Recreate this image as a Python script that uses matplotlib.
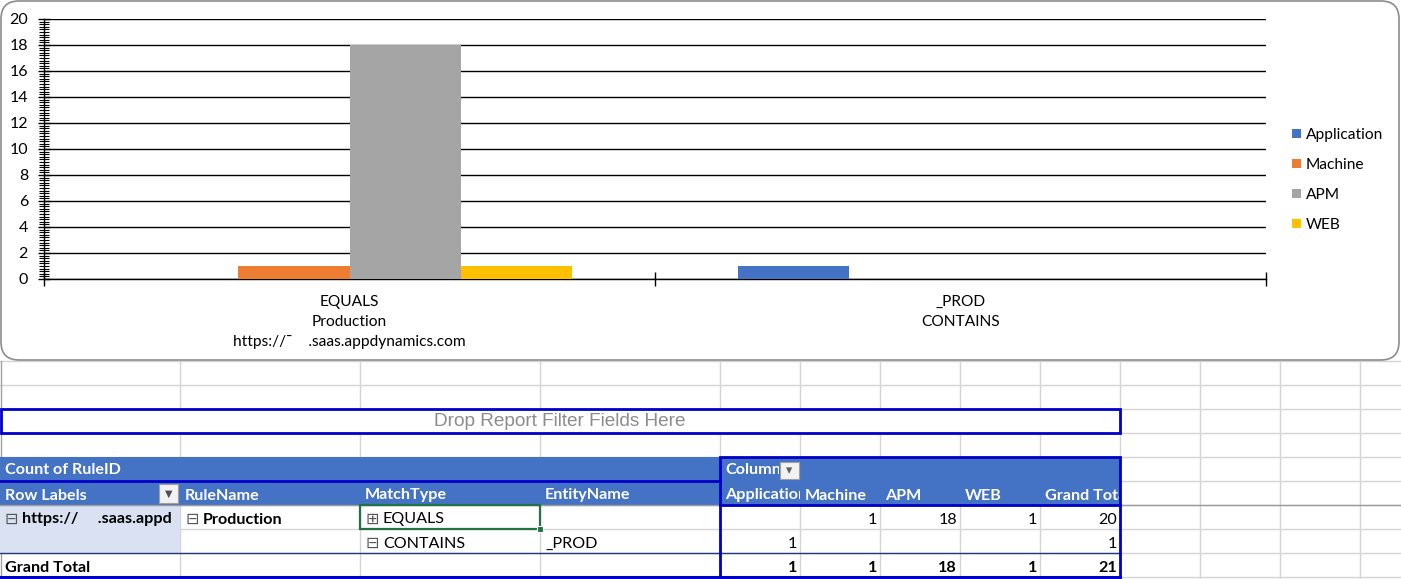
import matplotlib
matplotlib.use("Agg")
import matplotlib.pyplot as plt
from matplotlib.patches import Rectangle, FancyBboxPatch
from matplotlib.ticker import MultipleLocator, FixedLocator
from matplotlib.transforms import Bbox, TransformedBbox

plt.rcParams['font.family'] = ['Lato', 'DejaVu Sans']

# ---------------- data ----------------
categories = ["EQUALS\nProduction\nhttps://ˉ    .saas.appdynamics.com", "_PROD\nCONTAINS"]
series_names = ["Application", "Machine", "APM", "WEB"]
application = [0, 1]
machine = [1, 0]
apm = [18, 0]
web = [1, 0]
series_colors = ["#4472C4", "#ED7D31", "#A5A5A5", "#FFC000"]
y_ticks = [0, 2, 4, 6, 8, 10, 12, 14, 16, 18, 20]

# pivot table (text as visible in the cells)
pivot_row_labels = ["https://     .saas.appd", "Production"]
pivot_match = ["EQUALS", "CONTAINS"]
pivot_entity = ["", "_PROD"]
pivot_columns = ["Application", "Machine", "APM", "WEB", "Grand Total"]
pivot_row1 = [None, 1, 18, 1, 20]
pivot_row2 = [1, None, None, None, 1]
pivot_total = [1, 1, 18, 1, 21]

W, H = 1401, 579
fig = plt.figure(figsize=(W / 100, H / 100), dpi=100)

# ---------------- spreadsheet background ----------------
bg = fig.add_axes([0, 0, 1, 1])
bg.set_xlim(0, W)
bg.set_ylim(H, 0)
bg.axis('off')

grid_c = "#D4D4D4"
col_edges = [0, 180, 360, 540, 720, 800, 880, 960, 1040, 1120, 1200, 1280, 1360]
row_edges = [361, 385, 409, 433, 457, 481, 505, 529, 553, 577]
for x in col_edges[1:]:
    bg.plot([x, x], [361, H], color=grid_c, lw=1, zorder=1)
for y in row_edges:
    bg.plot([0, W], [y, y], color=grid_c, lw=1, zorder=1)
bg.plot([0.5, 0.5], [361, H], color="#A0A0A0", lw=1, zorder=1)

header_blue = "#4472C4"
border_blue = "#0000C8"
white_txt = "white"
fs = 11.6

# header fills
bg.add_patch(Rectangle((0, 457), 1120, 48, facecolor=header_blue, edgecolor='none', zorder=2))
# light row label fill
bg.add_patch(Rectangle((0, 505), 180, 48, facecolor="#D9E1F2", edgecolor='none', zorder=2))

def clipped_text(x, y, s, x0, x1, **kw):
    t = bg.text(x, y, s, va='center', fontsize=fs, zorder=6, **kw)
    t.set_clip_box(TransformedBbox(Bbox([[x0, y - 14], [x1, y + 14]]), bg.transData))
    t.set_clip_on(True)
    return t

# filter box
bg.add_patch(Rectangle((0.5, 409), 1119.5, 24, facecolor='white', edgecolor=border_blue, lw=2, zorder=4))
bg.text(560, 421.5, "Drop Report Filter Fields Here", ha='center', va='center', fontsize=13.7,
        color="#8C8C8C", family=['Liberation Sans', 'DejaVu Sans'], zorder=5)

# header texts
r0, r1 = 470.5, 495.5
bg.text(5, r0, "Count of RuleID", va='center', fontsize=fs, color=white_txt, fontweight='bold', zorder=6)
clipped_text(725, r0, "Column", 720, 779, color=white_txt, fontweight='bold')
bg.add_patch(Rectangle((780, 462), 19, 17, facecolor="#F2F2F2", edgecolor="#A0A0A0", lw=0.8, zorder=7))
bg.text(789.5, 470.5, "▾", ha='center', va='center', fontsize=9, color="#606060",
        family=['DejaVu Sans'], zorder=8)

bg.text(5, r1, "Row Labels", va='center', fontsize=fs, color=white_txt, fontweight='bold', zorder=6)
bg.add_patch(Rectangle((159, 484), 19, 19, facecolor="#F2F2F2", edgecolor="#A0A0A0", lw=0.8, zorder=7))
bg.text(168.5, 493.5, "▼", ha='center', va='center', fontsize=7, color="#505050",
        family=['DejaVu Sans'], zorder=8)
bg.text(185, r1, "RuleName", va='center', fontsize=fs, color=white_txt, fontweight='bold', zorder=6)
bg.text(365, r1, "MatchType", va='center', fontsize=fs, color=white_txt, fontweight='bold', zorder=6)
bg.text(545, r1, "EntityName", va='center', fontsize=fs, color=white_txt, fontweight='bold', zorder=6)
col_x = [720, 800, 880, 960, 1040]
for i, name in enumerate(pivot_columns):
    clipped_text(col_x[i] + 5, r1, name, col_x[i], col_x[i] + 80 - (1 if i == 4 else 0),
                 color=white_txt, fontweight='bold')

# body rows
row_y = [519.5, 543.5, 567.5]
bg.text(5, row_y[0], "⊟", va='center', fontsize=fs, color="#555555", zorder=6)
clipped_text(22, row_y[0], pivot_row_labels[0], 0, 180, color='black', fontweight='bold')
bg.text(186, row_y[0], "⊟", va='center', fontsize=fs, color="#555555", zorder=6)
bg.text(203, row_y[0], pivot_row_labels[1], va='center', fontsize=fs, color='black', fontweight='bold', zorder=6)
bg.text(366, row_y[0], "⊞", va='center', fontsize=fs, color="#555555", zorder=6)
bg.text(383, row_y[0], pivot_match[0], va='center', fontsize=fs, color='black', zorder=6)
bg.text(366, row_y[1], "⊟", va='center', fontsize=fs, color="#555555", zorder=6)
bg.text(383, row_y[1], pivot_match[1], va='center', fontsize=fs, color='black', zorder=6)
bg.text(545, row_y[1], pivot_entity[1], va='center', fontsize=fs, color='black', zorder=6)
bg.text(5, row_y[2], "Grand Total", va='center', fontsize=fs, color='black', fontweight='bold', zorder=6)

for rvals, ry, bold in [(pivot_row1, row_y[0], False), (pivot_row2, row_y[1], False),
                        (pivot_total, row_y[2], True)]:
    for i, v in enumerate(rvals):
        if v is None:
            continue
        bg.text(col_x[i] + 77, ry, str(v), ha='right', va='center', fontsize=fs, color='black',
                fontweight='bold' if bold else 'normal', zorder=6)

# selected cell (green)
bg.add_patch(Rectangle((360, 505), 180, 24, facecolor='none', edgecolor="#217346", lw=1.6, zorder=8))
bg.add_patch(Rectangle((537, 526), 6, 6, facecolor="#217346", edgecolor='white', lw=0.8, zorder=9))

# pivot borders
bg.plot([0, W], [505, 505], color="#9B9B9B", lw=1, zorder=3)
bg.plot([0, 720], [481, 481], color=border_blue, lw=2, zorder=5)
bg.plot([0, 1120], [553, 553], color="#1F3A78", lw=1, zorder=5)
bg.plot([0, 1120], [577, 577], color=border_blue, lw=2.2, zorder=5)
bg.add_patch(Rectangle((720, 457), 400, 120, facecolor='none', edgecolor=border_blue, lw=2, zorder=7))
bg.plot([720, 1120], [505, 505], color=border_blue, lw=2, zorder=7)

# chart frame
bg.add_patch(FancyBboxPatch((1, 1), 1398, 359, boxstyle="round,pad=0,rounding_size=18",
                            facecolor='white', edgecolor="#8C8C8C", lw=1.2, zorder=10))

# ---------------- chart ----------------
ax = fig.add_axes([44 / W, (H - 279) / H, 1222 / W, 260 / H], zorder=20)
ax.patch.set_alpha(0)
values = [application, machine, apm, web]
xs = [1, 2]
bw = 0.1817
bars = []
for i, (name, vals, col) in enumerate(zip(series_names, values, series_colors)):
    b = ax.bar([x + (i - 1.5) * bw for x in xs], vals, width=bw, color=col, label=name, zorder=3)
    bars.append(b)

ax.set_xlim(0.5, 2.5)
ax.set_ylim(0, 20)
ax.set_yticks(y_ticks)
ax.yaxis.set_minor_locator(MultipleLocator(0.2))
ax.grid(axis='y', which='major', color='black', lw=1, zorder=1)
ax.set_axisbelow(True)
for s in ['top', 'right']:
    ax.spines[s].set_visible(False)
ax.spines['left'].set_color('black')
ax.spines['bottom'].set_color('black')
ax.spines['left'].set_linewidth(1)
ax.spines['bottom'].set_linewidth(1)
ax.tick_params(axis='y', which='major', direction='inout', length=9, width=1, labelsize=11.5, pad=7)
ax.tick_params(axis='y', which='minor', direction='inout', length=7, width=0.8)
ax.xaxis.set_major_locator(FixedLocator([0.5, 1.5, 2.5]))
ax.set_xticklabels(["", "", ""])
ax.xaxis.set_minor_locator(FixedLocator(xs))
ax.set_xticklabels(categories, minor=True, linespacing=1.55)
ax.tick_params(axis='x', which='major', direction='inout', length=10, width=1)
ax.tick_params(axis='x', which='minor', length=0, pad=11.5, labelsize=11.2)

ax.legend(handles=bars, loc='center left', bbox_to_anchor=(1278 / W, (H - 180) / H),
          bbox_transform=fig.transFigure, frameon=False, fontsize=11.2,
          handlelength=0.55, handleheight=0.55, handletextpad=0.35, labelspacing=1.04)

fig.savefig("out.png", dpi=100)
